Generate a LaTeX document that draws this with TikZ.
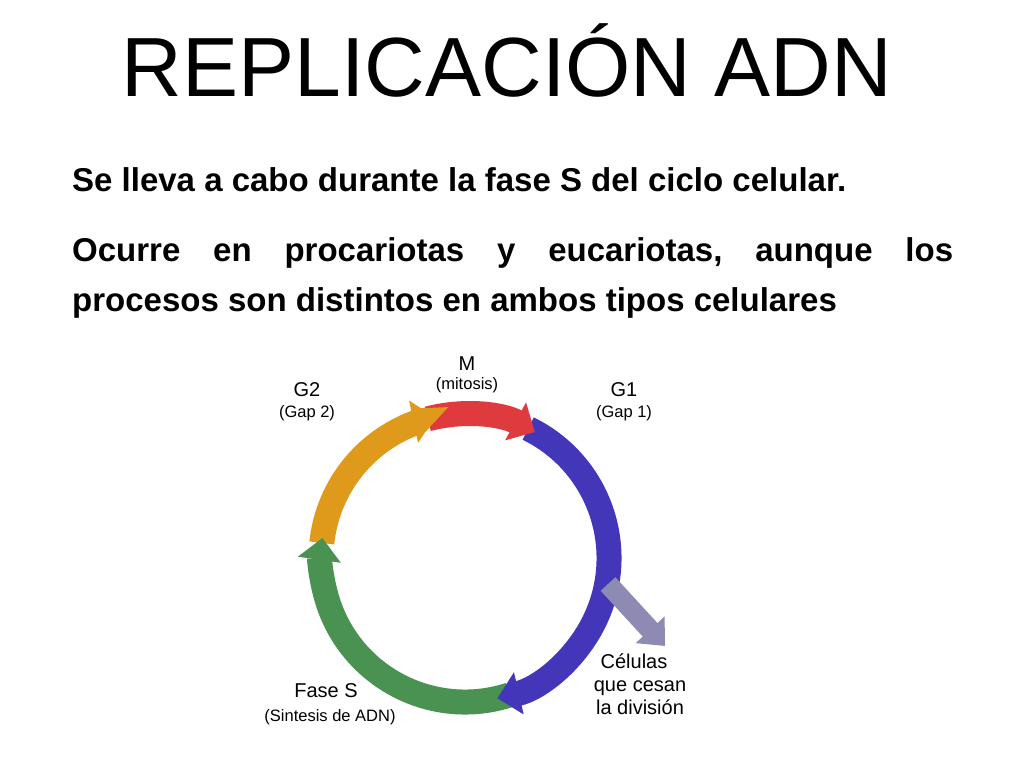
\documentclass[tikz,border=0pt]{standalone}
\usepackage{fontspec}
\setmainfont{Liberation Sans}
\usetikzlibrary{arrows.meta}
\definecolor{cred}{HTML}{DF3B3F}
\definecolor{cblue}{HTML}{4436B9}
\definecolor{cgreen}{HTML}{4A9252}
\definecolor{corange}{HTML}{DF9A1C}
\definecolor{cgray}{HTML}{8D8BB3}
\begin{document}
\begin{tikzpicture}[x=1pt,y=1pt,
  seg/.style={line width=25pt,-{Triangle[width=42pt,length=22pt]}},
  lab/.style={font=\fontsize{20}{20}\selectfont,inner sep=0pt,anchor=base},
  sub/.style={font=\fontsize{16.5}{16.5}\selectfont},
  txt/.style={font=\fontsize{33}{33}\selectfont\bfseries,inner sep=0pt,anchor=base west}]
\useasboundingbox (0,0) rectangle (1024,768);
\fill[white] (0,0) rectangle (1024,768);
\node[inner sep=0pt,anchor=base,font=\fontsize{84}{84}\selectfont] (title) at (507,671) {REPLICACIÓN ADN};
\node[txt] (l1) at (72,576) {Se lleva a cabo durante la fase S del ciclo celular.};
\node[txt] (l2) at (72,506) {\hbox to 881pt{Ocurre\hfill en\hfill procariotas\hfill y\hfill eucariotas,\hfill aunque\hfill los}};
\node[txt] (l3) at (72,456) {procesos son distintos en ambos tipos celulares};
\coordinate (c) at (465,210);
\draw[corange,line width=25pt] (c) ++(174:144pt) arc[start angle=174,end angle=112,radius=144pt];
\draw[seg,cgreen] (c) ++(-72:144pt) arc[start angle=-72,end angle=-188,radius=144pt];
\draw[seg,cblue] (c) ++(64:144pt) arc[start angle=64,end angle=-77,radius=144pt];
\draw[seg,cred] (c) ++(105:144pt) arc[start angle=105,end angle=61,radius=144pt];
\draw[seg,corange] (c) ++(115:144pt) arc[start angle=115,end angle=102,radius=144pt];
\coordinate (g0) at (608,184);
\coordinate (g1) at (665,122);
\draw[cgray,line width=20pt,-{Triangle[width=38pt,length=22pt]}] (g0) -- (g1);
\node[lab] (m) at (467,397) {M};
\node[lab,sub] (mm) at (467,378) {(mitosis)};
\node[lab] (g2) at (307,371) {G2};
\node[lab,sub] (g2b) at (307,350) {(Gap 2)};
\node[lab] (g1l) at (624,371) {G1};
\node[lab,sub] (g1b) at (624,350) {(Gap 1)};
\node[lab] (fs) at (326,71) {Fase S};
\node[lab,sub] (fsb) at (330,47) {(Sintesis de ADN)};
\node[lab] (ce1) at (634,100) {Células};
\node[lab] (ce2) at (640,77) {que cesan};
\node[lab] (ce3) at (640,54) {la división};
\end{tikzpicture}
\end{document}
